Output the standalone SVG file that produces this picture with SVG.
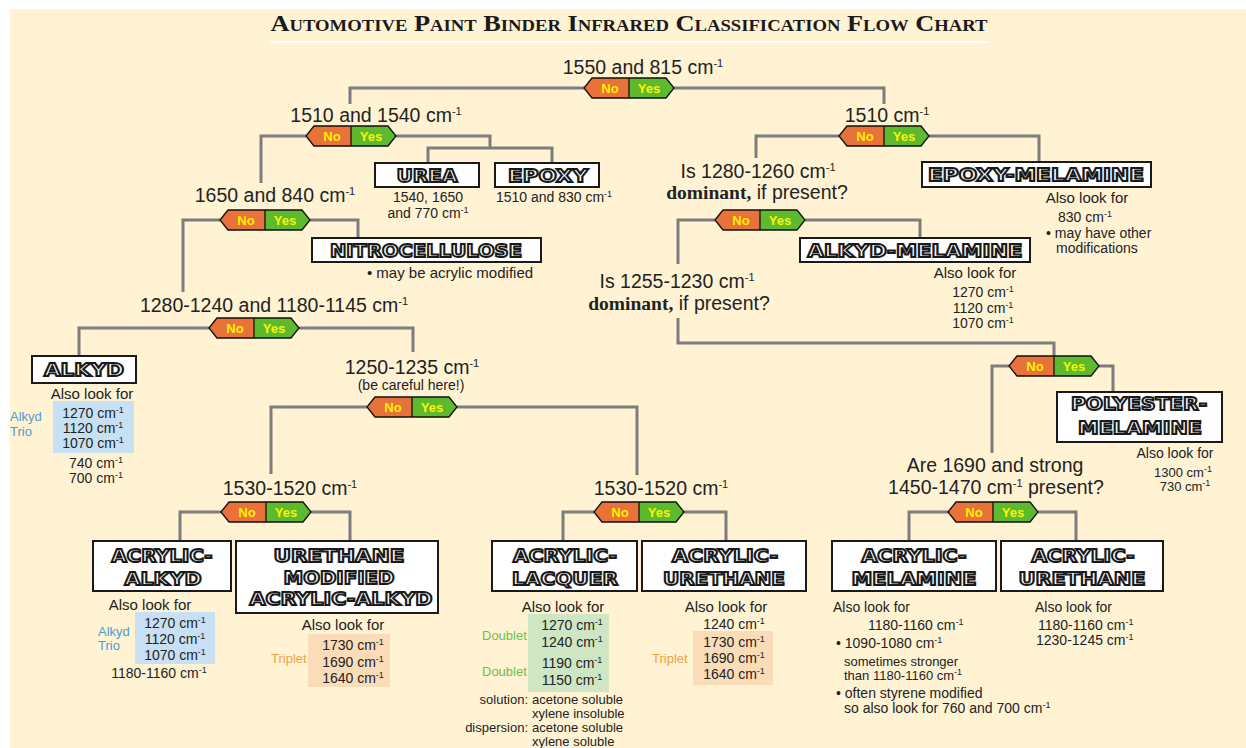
<svg xmlns="http://www.w3.org/2000/svg" xmlns:xlink="http://www.w3.org/1999/xlink" width="1246" height="748" viewBox="0 0 1246 748">
<style>
.big{font-family:"Liberation Sans",Arial,sans-serif;font-size:19.5px;fill:#222;text-anchor:middle}
.sm{font-family:"Liberation Sans",Arial,sans-serif;font-size:15px;fill:#222}
.s14{font-size:14px}
.xs{font-family:"Liberation Sans",Arial,sans-serif;font-size:13px;fill:#222}
.c{text-anchor:middle}
.e{text-anchor:end}
.sb{font-size:11px}
.ss{font-size:9px}
.bx{font-family:"DejaVu Sans",Verdana,sans-serif;font-weight:bold;font-size:18px;fill:#fff;stroke:#1a1a1a;stroke-width:1.9px;text-anchor:middle}
.box{fill:#fff;stroke:#1a1a1a;stroke-width:2}
.conn{fill:none;stroke:#7d7d7d;stroke-width:3}
.dom{font-family:"Liberation Serif",serif;font-weight:bold}
.blue{fill:#4a9bd6}
.orange{fill:#f0a23c}
.green{fill:#6cc04a}
.yn{font-family:"Liberation Sans",Arial,sans-serif;font-weight:bold;font-size:13px;fill:#fff200;text-anchor:middle}
</style>
<defs>
<g id="badge">
<polygon points="-45,0 -37,-10 0,-10 0,10 -37,10" fill="#e9713a"/>
<polygon points="0,-10 37,-10 45,0 37,10 0,10" fill="#5dba2f"/>
<polygon points="-45,0 -37,-10 37,-10 45,0 37,10 -37,10" fill="none" stroke="#111" stroke-width="1.3"/>
<line x1="0" y1="-10" x2="0" y2="10" stroke="#111" stroke-width="1.3"/>
<text class="yn" x="-19" y="4.5">No</text>
<text class="yn" x="20" y="4.5">Yes</text>
</g>
</defs>
<rect x="0" y="0" width="1246" height="748" fill="#ffffff"/>
<rect x="10" y="9" width="1236" height="739" fill="#fff3d4"/>
<g id="title">
<text x="629" y="31" font-family="Liberation Serif,serif" font-weight="bold" font-size="24" font-variant="small-caps" text-anchor="middle" fill="#1a1a1a" textLength="717" lengthAdjust="spacingAndGlyphs">Automotive Paint Binder Infrared Classification Flow Chart</text>
<line x1="270" y1="42" x2="989" y2="42" stroke="#ffffff" stroke-width="2"/>
</g>
<g id="connectors">
<path class="conn" d="M584,88 H350 V104 M674,88 H884 V104"/>
<path class="conn" d="M306,136 H261 V183 M396,136 H490 V148 M428,163 V148 H552 V163"/>
<path class="conn" d="M220,220 H183 V292 M310,220 H358 V238"/>
<path class="conn" d="M839,136 H756 V158 M929,136 H1039 V162"/>
<path class="conn" d="M715,220 H678 V264 M805,220 H920 V238"/>
<path class="conn" d="M678,318 V343 H1054 V356"/>
<path class="conn" d="M209,328 H79 V356 M299,328 H413 V352"/>
<path class="conn" d="M367,407 H271 V474 M457,407 H637 V475"/>
<path class="conn" d="M1009,366 H992 V453 M1099,366 H1113 V392"/>
<path class="conn" d="M948,512 H909 V541 M1038,512 H1076 V541"/>
<path class="conn" d="M221,512 H180 V541 M311,512 H350 V541"/>
<path class="conn" d="M594,512 H563 V541 M684,512 H726 V541"/>
</g>
<g id="q1550">
<text class="big" x="643" y="74">1550 and 815 cm<tspan class="sb" dy="-7">-1</tspan></text>
<use xlink:href="#badge" x="629" y="88"/>
</g>
<g id="q1510-1540">
<text class="big" x="376" y="122">1510 and 1540 cm<tspan class="sb" dy="-7">-1</tspan></text>
<use xlink:href="#badge" x="351" y="136"/>
</g>
<g id="urea">
<rect class="box" x="375" y="163" width="104" height="24"/>
<text class="bx" x="427" y="182" textLength="61" lengthAdjust="spacingAndGlyphs">UREA</text>
<text class="sm s14 c" x="428" y="202">1540, 1650</text>
<text class="sm s14 c" x="428" y="218">and 770 cm<tspan class="ss" dy="-5">-1</tspan></text>
</g>
<g id="epoxy">
<rect class="box" x="495" y="163" width="104" height="24"/>
<text class="bx" x="548" y="182" textLength="80" lengthAdjust="spacingAndGlyphs">EPOXY</text>
<text class="sm s14 c" x="554" y="202">1510 and 830 cm<tspan class="ss" dy="-5">-1</tspan></text>
</g>
<g id="q1650">
<text class="big" x="275" y="202">1650 and 840 cm<tspan class="sb" dy="-7">-1</tspan></text>
<use xlink:href="#badge" x="265" y="220"/>
</g>
<g id="nitrocellulose">
<rect class="box" x="312" y="238" width="229" height="24"/>
<text class="bx" x="426" y="257" textLength="192" lengthAdjust="spacingAndGlyphs">NITROCELLULOSE</text>
<text class="sm c" x="450" y="278">•  may be acrylic modified</text>
</g>
<g id="q1510">
<text class="big" x="887" y="122">1510 cm<tspan class="sb" dy="-7">-1</tspan></text>
<use xlink:href="#badge" x="884" y="136"/>
</g>
<g id="epoxy-melamine">
<rect class="box" x="922" y="162" width="229" height="25"/>
<text class="bx" x="1036" y="181" textLength="216" lengthAdjust="spacingAndGlyphs">EPOXY-MELAMINE</text>
<text class="sm c" x="1087" y="203">Also look for</text>
<text class="sm s14 c" x="1085" y="222">830 cm<tspan class="ss" dy="-5">-1</tspan></text>
<text class="sm s14" x="1046" y="238">• may have other</text>
<text class="sm s14" x="1056" y="253">modifications</text>
</g>
<g id="q1280-1260">
<text class="big" x="758" y="178">Is 1280-1260 cm<tspan class="sb" dy="-7">-1</tspan></text>
<text class="big" x="757" y="199"><tspan class="dom">dominant,</tspan> if present?</text>
<use xlink:href="#badge" x="760" y="220"/>
</g>
<g id="alkyd-melamine">
<rect class="box" x="800" y="238" width="230" height="24"/>
<text class="bx" x="915" y="257" textLength="215" lengthAdjust="spacingAndGlyphs">ALKYD-MELAMINE</text>
<text class="sm c" x="975" y="278">Also look for</text>
<text class="sm s14 c" x="983" y="297">1270 cm<tspan class="ss" dy="-5">-1</tspan></text>
<text class="sm s14 c" x="983" y="313">1120 cm<tspan class="ss" dy="-5">-1</tspan></text>
<text class="sm s14 c" x="983" y="328">1070 cm<tspan class="ss" dy="-5">-1</tspan></text>
</g>
<g id="q1255-1230">
<text class="big" x="677" y="288">Is 1255-1230 cm<tspan class="sb" dy="-7">-1</tspan></text>
<text class="big" x="679" y="310"><tspan class="dom">dominant,</tspan> if present?</text>
</g>
<g id="q1280-1240">
<text class="big" x="274" y="312">1280-1240 and 1180-1145 cm<tspan class="sb" dy="-7">-1</tspan></text>
<use xlink:href="#badge" x="254" y="328"/>
</g>
<g id="alkyd">
<rect class="box" x="32" y="356" width="104" height="27"/>
<text class="bx" x="84" y="376" textLength="80" lengthAdjust="spacingAndGlyphs">ALKYD</text>
<text class="sm c" x="92" y="399">Also look for</text>
<rect x="53" y="401" width="81" height="52" fill="#c8e0f4"/>
<text class="xs blue" x="10" y="421">Alkyd</text>
<text class="xs blue" x="10" y="436">Trio</text>
<text class="sm s14 c" x="93" y="418">1270 cm<tspan class="ss" dy="-5">-1</tspan></text>
<text class="sm s14 c" x="93" y="433">1120 cm<tspan class="ss" dy="-5">-1</tspan></text>
<text class="sm s14 c" x="93" y="448">1070 cm<tspan class="ss" dy="-5">-1</tspan></text>
<text class="sm s14 c" x="96" y="468">740 cm<tspan class="ss" dy="-5">-1</tspan></text>
<text class="sm s14 c" x="96" y="483">700 cm<tspan class="ss" dy="-5">-1</tspan></text>
</g>
<g id="q1250-1235">
<text class="big" x="412" y="374">1250-1235 cm<tspan class="sb" dy="-7">-1</tspan></text>
<text class="sm s14 c" x="411" y="390">(be careful here!)</text>
<use xlink:href="#badge" x="412" y="407"/>
</g>
<g id="qpolyester">
<use xlink:href="#badge" x="1054" y="366"/>
</g>
<g id="polyester-melamine">
<rect class="box" x="1057" y="392" width="165" height="50"/>
<text class="bx" x="1139" y="410" textLength="136" lengthAdjust="spacingAndGlyphs">POLYESTER-</text>
<text class="bx" x="1140" y="434" textLength="124" lengthAdjust="spacingAndGlyphs">MELAMINE</text>
<text class="sm s14 c" x="1175" y="458">Also look for</text>
<text class="xs c" x="1183" y="477">1300 cm<tspan class="ss" dy="-5">-1</tspan></text>
<text class="xs c" x="1185" y="491">730 cm<tspan class="ss" dy="-5">-1</tspan></text>
</g>
<g id="q1690">
<text class="big" x="995" y="472">Are 1690 and strong</text>
<text class="big" x="996" y="494">1450-1470 cm<tspan class="sb" dy="-7">-1</tspan><tspan dy="7"> present?</tspan></text>
<use xlink:href="#badge" x="993" y="512"/>
</g>
<g id="q1530-left">
<text class="big" x="290" y="495">1530-1520 cm<tspan class="sb" dy="-7">-1</tspan></text>
<use xlink:href="#badge" x="266" y="512"/>
</g>
<g id="q1530-right">
<text class="big" x="661" y="495">1530-1520 cm<tspan class="sb" dy="-7">-1</tspan></text>
<use xlink:href="#badge" x="639" y="512"/>
</g>
<g id="acrylic-alkyd">
<rect class="box" x="93" y="541" width="138" height="50"/>
<text class="bx" x="162" y="562" textLength="101" lengthAdjust="spacingAndGlyphs">ACRYLIC-</text>
<text class="bx" x="163" y="585" textLength="77" lengthAdjust="spacingAndGlyphs">ALKYD</text>
<text class="sm c" x="150" y="610">Also look for</text>
<rect x="135" y="612" width="80" height="52" fill="#c8e0f4"/>
<text class="xs blue" x="98" y="636">Alkyd</text>
<text class="xs blue" x="98" y="650">Trio</text>
<text class="sm s14 c" x="175" y="628">1270 cm<tspan class="ss" dy="-5">-1</tspan></text>
<text class="sm s14 c" x="175" y="644">1120 cm<tspan class="ss" dy="-5">-1</tspan></text>
<text class="sm s14 c" x="175" y="660">1070 cm<tspan class="ss" dy="-5">-1</tspan></text>
<text class="sm s14 c" x="159" y="678">1180-1160 cm<tspan class="ss" dy="-5">-1</tspan></text>
</g>
<g id="urethane-modified-acrylic-alkyd">
<rect class="box" x="236" y="541" width="202" height="72"/>
<text class="bx" x="339" y="562" textLength="131" lengthAdjust="spacingAndGlyphs">URETHANE</text>
<text class="bx" x="339" y="584" textLength="111" lengthAdjust="spacingAndGlyphs">MODIFIED</text>
<text class="bx" x="341" y="605" textLength="183" lengthAdjust="spacingAndGlyphs">ACRYLIC-ALKYD</text>
<text class="sm c" x="343" y="630">Also look for</text>
<rect x="308" y="634" width="82" height="53" fill="#fbdcb8"/>
<text class="xs orange" x="271" y="663">Triplet</text>
<text class="sm s14 c" x="353" y="650">1730 cm<tspan class="ss" dy="-5">-1</tspan></text>
<text class="sm s14 c" x="353" y="667">1690 cm<tspan class="ss" dy="-5">-1</tspan></text>
<text class="sm s14 c" x="353" y="683">1640 cm<tspan class="ss" dy="-5">-1</tspan></text>
</g>
<g id="acrylic-lacquer">
<rect class="box" x="492" y="541" width="145" height="50"/>
<text class="bx" x="565" y="562" textLength="104" lengthAdjust="spacingAndGlyphs">ACRYLIC-</text>
<text class="bx" x="565" y="585" textLength="106" lengthAdjust="spacingAndGlyphs">LACQUER</text>
<text class="sm c" x="563" y="612">Also look for</text>
<rect x="528" y="614" width="81" height="78" fill="#cfe6c4"/>
<text class="xs green" x="482" y="640">Doublet</text>
<text class="xs green" x="482" y="676">Doublet</text>
<text class="sm s14 c" x="572" y="630">1270 cm<tspan class="ss" dy="-5">-1</tspan></text>
<text class="sm s14 c" x="572" y="647">1240 cm<tspan class="ss" dy="-5">-1</tspan></text>
<text class="sm s14 c" x="572" y="668">1190 cm<tspan class="ss" dy="-5">-1</tspan></text>
<text class="sm s14 c" x="572" y="685">1150 cm<tspan class="ss" dy="-5">-1</tspan></text>
<text class="xs e" x="528" y="704" font-size="12">solution:</text>
<text class="xs" x="532" y="704" font-size="12">acetone soluble</text>
<text class="xs" x="532" y="718" font-size="12">xylene insoluble</text>
<text class="xs e" x="528" y="732" font-size="12">dispersion:</text>
<text class="xs" x="532" y="732" font-size="12">acetone soluble</text>
<text class="xs" x="532" y="746" font-size="12">xylene soluble</text>
</g>
<g id="acrylic-urethane-1">
<rect class="box" x="642" y="541" width="164" height="50"/>
<text class="bx" x="725" y="562" textLength="106" lengthAdjust="spacingAndGlyphs">ACRYLIC-</text>
<text class="bx" x="724" y="585" textLength="122" lengthAdjust="spacingAndGlyphs">URETHANE</text>
<text class="sm c" x="726" y="612">Also look for</text>
<text class="sm s14 c" x="734" y="629">1240 cm<tspan class="ss" dy="-5">-1</tspan></text>
<rect x="693" y="631" width="80" height="54" fill="#fbdcb8"/>
<text class="xs orange" x="652" y="663">Triplet</text>
<text class="sm s14 c" x="734" y="647">1730 cm<tspan class="ss" dy="-5">-1</tspan></text>
<text class="sm s14 c" x="734" y="663">1690 cm<tspan class="ss" dy="-5">-1</tspan></text>
<text class="sm s14 c" x="734" y="679">1640 cm<tspan class="ss" dy="-5">-1</tspan></text>
</g>
<g id="acrylic-melamine">
<rect class="box" x="832" y="541" width="164" height="50"/>
<text class="bx" x="914" y="562" textLength="105" lengthAdjust="spacingAndGlyphs">ACRYLIC-</text>
<text class="bx" x="914" y="585" textLength="125" lengthAdjust="spacingAndGlyphs">MELAMINE</text>
<text class="sm s14" x="833" y="612">Also look for</text>
<text class="sm s14" x="868" y="630">1180-1160 cm<tspan class="ss" dy="-5">-1</tspan></text>
<text class="sm s14" x="836" y="648">• 1090-1080 cm<tspan class="ss" dy="-5">-1</tspan></text>
<text class="xs" x="844" y="666">sometimes stronger</text>
<text class="xs" x="844" y="680">than 1180-1160 cm<tspan class="ss" dy="-5">-1</tspan></text>
<text class="sm s14" x="836" y="698">• often styrene modified</text>
<text class="sm s14" x="844" y="713">so also look for 760 and 700 cm<tspan class="ss" dy="-5">-1</tspan></text>
</g>
<g id="acrylic-urethane-2">
<rect class="box" x="1001" y="541" width="162" height="50"/>
<text class="bx" x="1083" y="562" textLength="103" lengthAdjust="spacingAndGlyphs">ACRYLIC-</text>
<text class="bx" x="1082" y="585" textLength="127" lengthAdjust="spacingAndGlyphs">URETHANE</text>
<text class="sm s14" x="1035" y="612">Also look for</text>
<text class="sm s14" x="1038" y="630">1180-1160 cm<tspan class="ss" dy="-5">-1</tspan></text>
<text class="sm s14" x="1036" y="645">1230-1245 cm<tspan class="ss" dy="-5">-1</tspan></text>
</g>
</svg>
